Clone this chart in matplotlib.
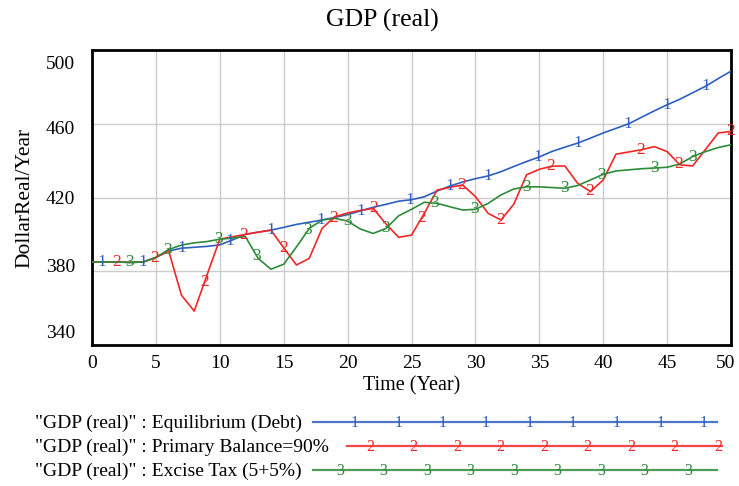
import numpy as np
import matplotlib
matplotlib.use("Agg")
import matplotlib.pyplot as plt
from matplotlib.transforms import ScaledTranslation

plt.rcParams['font.family'] = ['Liberation Serif', 'DejaVu Serif']

# data
years = list(range(0, 51))
gdp_equilibrium = [385, 385, 385, 384.8, 385, 387.5, 391, 392.5, 393, 393.5,
                   394.3, 397, 400, 401.2, 402.3, 403.8, 405.4, 406.6, 407.8, 409.2,
                   410.7, 412.7, 414.7, 416.3, 418, 418.8, 420.4, 423.5, 426.2, 428.4,
                   430.2, 431.7, 434, 436.8, 439.5, 442, 445, 447.3, 449.5, 452.2,
                   455, 457.5, 460, 463.5, 467, 470.3, 473.3, 476.8, 480.3, 484.5, 488.5]
gdp_primary = [385, 385, 385, 384.8, 385, 387.5, 391, 367, 358.4, 378,
               397.4, 398.7, 400, 401.2, 402.3, 392.7, 383.4, 387, 403.2, 409.6,
               411.6, 413, 414.1, 405.7, 398.4, 399.6, 411.4, 424, 425.5, 426.8,
               420.5, 411.4, 407.8, 416.3, 432.3, 435.3, 437, 437.1, 427.7, 423.2,
               429.5, 443.5, 444.7, 445.9, 447.6, 444.9, 437.7, 437.1, 446, 455, 455.8]
gdp_excise = [385, 385, 385, 384.8, 385, 387.5, 391.8, 394.2, 395.4, 396.1,
              397.4, 398, 398.8, 387, 381.1, 383.8, 393.2, 403.2, 407.8, 408.7,
              407.2, 402.9, 400.5, 403.2, 410.1, 413.6, 417.4, 416.8, 415, 413.2,
              413.6, 416.8, 421.4, 424.6, 425.8, 425.8, 425.4, 425, 426.5, 429.5,
              432.6, 434.4, 435, 435.6, 436, 436.4, 438.2, 442.2, 444.9, 447.1, 448.6]

# where the series numbers sit on each curve
marks_1 = [0.8, 4, 7, 10.8, 14, 17.9, 21, 24.9, 28, 31, 34.9, 38, 41.9, 45, 48]
marks_2 = [1.9, 4.9, 8.8, 11.9, 15, 18.9, 22, 25.8, 28.9, 32, 35.9, 38.9, 42.9, 45.9, 50]
marks_3 = [2.9, 5.9, 9.9, 12.9, 16.9, 20, 23, 26.8, 29.9, 34, 37, 39.9, 44, 47]

xticks = list(range(0, 51, 5))
yticks = [340, 380, 420, 460, 500]
labels = ['"GDP (real)" : Equilibrium (Debt)',
          '"GDP (real)" : Primary Balance=90%',
          '"GDP (real)" : Excise Tax (5+5%)']
colors = ['#2E5FBF', '#F22626', '#2E8B3A']

W, H = 739, 486
fig = plt.figure(figsize=(W / 100, H / 100), dpi=100)
ax = fig.add_axes([92 / W, 1 - 345 / H, (731 - 92) / W, (345 - 50) / H])

series = [gdp_equilibrium, gdp_primary, gdp_excise]
marks = [marks_1, marks_2, marks_3]
for i, (vals, mk, c) in enumerate(zip(series, marks, colors)):
    ax.plot(years, vals, color=c, lw=1.2, zorder=3)
    for m in mk:
        ax.text(m, np.interp(m, years, vals), str(i + 1), color=c, fontsize=12.5,
                ha='center', va='center', zorder=4)

ax.set_xlim(0, 50)
ax.set_ylim(340, 500)
ax.set_xticks(xticks)
ax.set_yticks(yticks)
ax.set_xticklabels([])
ax.set_yticklabels([])
ax.grid(True, color='#CCCCCC', lw=1)
ax.set_axisbelow(True)
for s in ax.spines.values():
    s.set_linewidth(2)
ax.tick_params(length=0)

# tick labels drawn by hand so the end ones can be nudged inward like the source
for v in xticks:
    dx = -5 if v == 50 else 0
    tr = ax.get_xaxis_transform() + ScaledTranslation(dx / 100, -18 / 100, fig.dpi_scale_trans)
    ax.text(v, 0, str(v), transform=tr, fontsize=14, ha='center', va='center')
shift_px = [12, 4, -2, -6, -14]
for v, d in zip(yticks, shift_px):
    tr = ax.get_yaxis_transform() + ScaledTranslation(-17 / 100, d / 100, fig.dpi_scale_trans)
    ax.text(0, v, str(v), transform=tr, fontsize=14, ha='right', va='center')

ax.set_xlabel('Time (Year)', fontsize=14.5, labelpad=19)
ax.set_ylabel('DollarReal/Year', fontsize=15.5, labelpad=38)
fig.text(382 / W, 1 - 20 / H, 'GDP (real)', fontsize=18.5, ha='center', va='center')

# legend in pixel space below the plot
lg = fig.add_axes([0, 0, 1, 1], facecolor='none')
lg.set_xlim(0, W)
lg.set_ylim(H, 0)
lg.axis('off')
rows = [423, 447, 471]
line_ext = [(313, 717), (347, 722), (313, 717)]
num_pos = [np.linspace(355, 704, 9), np.linspace(370, 718, 9), np.linspace(340, 688, 9)]
for i in range(3):
    lg.text(35, rows[i], labels[i], fontsize=14, ha='left', va='center')
    lg.plot(line_ext[i], [rows[i] - 1, rows[i] - 1], color=colors[i], lw=1.6, alpha=0.85)
    for p in num_pos[i]:
        lg.text(p, rows[i], str(i + 1), color=colors[i], fontsize=11.5,
                ha='center', va='center')

fig.savefig('out.png', dpi=100)
